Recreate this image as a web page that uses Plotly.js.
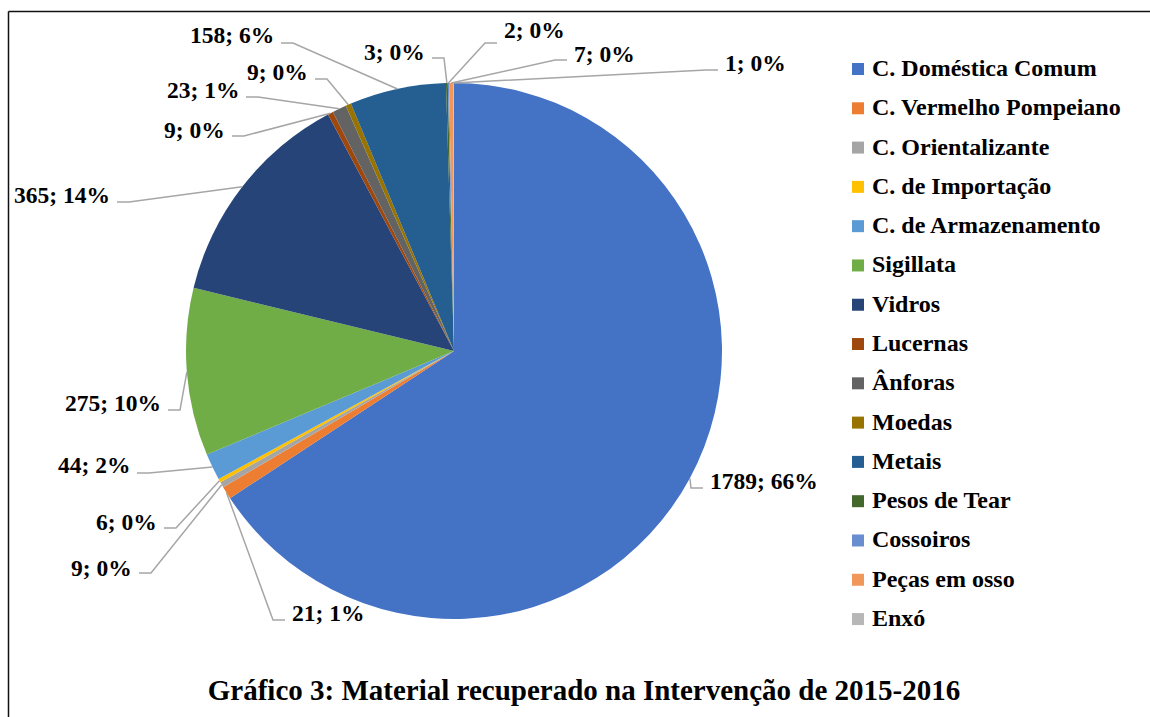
<!DOCTYPE html>
<html>
<head>
<meta charset="utf-8">
<script src="https://cdn.plot.ly/plotly-3.0.1.min.js"></script>
<style>html,body{margin:0;padding:0;background:#fff;}</style>
</head>
<body>
<div id="chart" style="width:1150px;height:717px;"></div>
<script>
// ---------------- data ----------------
const categories = [
  'C. Doméstica Comum', 'C. Vermelho Pompeiano', 'C. Orientalizante', 'C. de Importação',
  'C. de Armazenamento', 'Sigillata', 'Vidros', 'Lucernas', 'Ânforas', 'Moedas',
  'Metais', 'Pesos de Tear', 'Cossoiros', 'Peças em osso', 'Enxó'
];
const values = [1789, 21, 9, 6, 44, 275, 365, 9, 23, 9, 158, 3, 2, 7, 1];
const percentLabels = [66, 1, 0, 0, 2, 10, 14, 0, 1, 0, 6, 0, 0, 0, 0];
const chartTitle = 'Gráfico 3: Material recuperado na Intervenção de 2015-2016';

// ---------------- style / layout ----------------
const colors = ['#4472C4', '#ED7D31', '#A5A5A5', '#FFC000', '#5B9BD5', '#70AD47', '#264478',
  '#9E480E', '#636363', '#997300', '#255E91', '#43682B', '#698ED0', '#F1975A', '#B7B7B7'];
const W = 1150, H = 717;
const CX = 454, CY = 351, R = 268;           // pie geometry (px)
const FONT = 'Liberation Serif, Times New Roman, serif';
// label placement (px): [text edge x, text centre y, leader y, side of label relative to leader]
const labelPlacement = [
  [708, 481, 488, 'right'],
  [290, 613, 620, 'right'],
  [134, 568, 573, 'left'],
  [159, 522, 528, 'left'],
  [132, 465, 473, 'left'],
  [163, 403, 410, 'left'],
  [112, 195, 202, 'left'],
  [227, 130, 136, 'left'],
  [241, 90, 97, 'left'],
  [310, 72, 79, 'left'],
  [276, 35.5, 43, 'left'],
  [427, 52, 58, 'left'],
  [502, 30, 43, 'right'],
  [572, 54, 60, 'right'],
  [723, 63, 70, 'right']
];
const legendLeft = 852, legendTextX = 870, legendTop = 69, legendStep = 39.29, legendBox = 12;

const px = x => x / W;
const py = y => 1 - y / H;

const trace = {
  type: 'pie',
  labels: categories,
  values: values,
  sort: false,
  direction: 'clockwise',
  rotation: 0,
  textinfo: 'none',
  hoverinfo: 'label+value+percent',
  showlegend: false,
  marker: { colors: colors, line: { width: 0 } },
  domain: { x: [px(CX - R), px(CX + R)], y: [py(CY + R), py(CY - R)] }
};

const shapes = [];
const annotations = [];

// frame
shapes.push({ type: 'line', xref: 'paper', yref: 'paper', x0: px(8.5), y0: py(11.5), x1: px(W), y1: py(11.5), line: { color: '#111', width: 1.5 } });
shapes.push({ type: 'line', xref: 'paper', yref: 'paper', x0: px(8.5), y0: py(11.5), x1: px(8.5), y1: py(H), line: { color: '#111', width: 1.5 } });

// data labels + leader lines
const total = values.reduce((a, b) => a + b, 0);
let cum = 0;
values.forEach((v, i) => {
  const mid = (cum + v / 2) / total;
  cum += v;
  const th = mid * 2 * Math.PI;
  const ex = CX + R * Math.sin(th), ey = CY - R * Math.cos(th);
  const [tx, ty, ly, side] = labelPlacement[i];
  const dir = side === 'left' ? 1 : -1;   // direction from text towards the pie
  const gap = 5, seg = 12;
  const x1 = tx + dir * gap, x2 = tx + dir * (gap + seg);
  shapes.push({
    type: 'path', xref: 'paper', yref: 'paper',
    path: `M ${px(x1)} ${py(ly)} L ${px(x2)} ${py(ly)} L ${px(ex)} ${py(ey)}`,
    line: { color: '#A6A6A6', width: 1.5 }
  });
  annotations.push({
    xref: 'paper', yref: 'paper', x: px(tx), y: py(ty),
    xanchor: side === 'left' ? 'right' : 'left', yanchor: 'middle',
    showarrow: false,
    text: values[i] + '; ' + percentLabels[i] + '%',
    font: { family: FONT, size: 23.5, color: '#000', weight: 'bold' }
  });
});

// legend (drawn as shapes + text)
categories.forEach((c, i) => {
  const yc = legendTop + i * legendStep;
  shapes.push({
    type: 'rect', xref: 'paper', yref: 'paper',
    x0: px(legendLeft), x1: px(legendLeft + legendBox),
    y0: py(yc - legendBox / 2), y1: py(yc + legendBox / 2),
    fillcolor: colors[i], line: { width: 0 }
  });
  annotations.push({
    xref: 'paper', yref: 'paper', x: px(legendTextX), y: py(yc - 1),
    xanchor: 'left', yanchor: 'middle', showarrow: false,
    text: c,
    font: { family: FONT, size: 24, color: '#000', weight: 'bold' }
  });
});

const layout = {
  width: W, height: H,
  margin: { l: 0, r: 0, t: 0, b: 0 },
  paper_bgcolor: '#fff',
  showlegend: false,
  title: {
    text: chartTitle,
    x: px(584), xanchor: 'center',
    y: 1 - 690 / H, yanchor: 'middle',
    font: { family: FONT, size: 29, color: '#000', weight: 'bold' }
  },
  shapes: shapes,
  annotations: annotations
};

Plotly.newPlot('chart', [trace], layout, { displayModeBar: false, responsive: false });
</script>
</body>
</html>
